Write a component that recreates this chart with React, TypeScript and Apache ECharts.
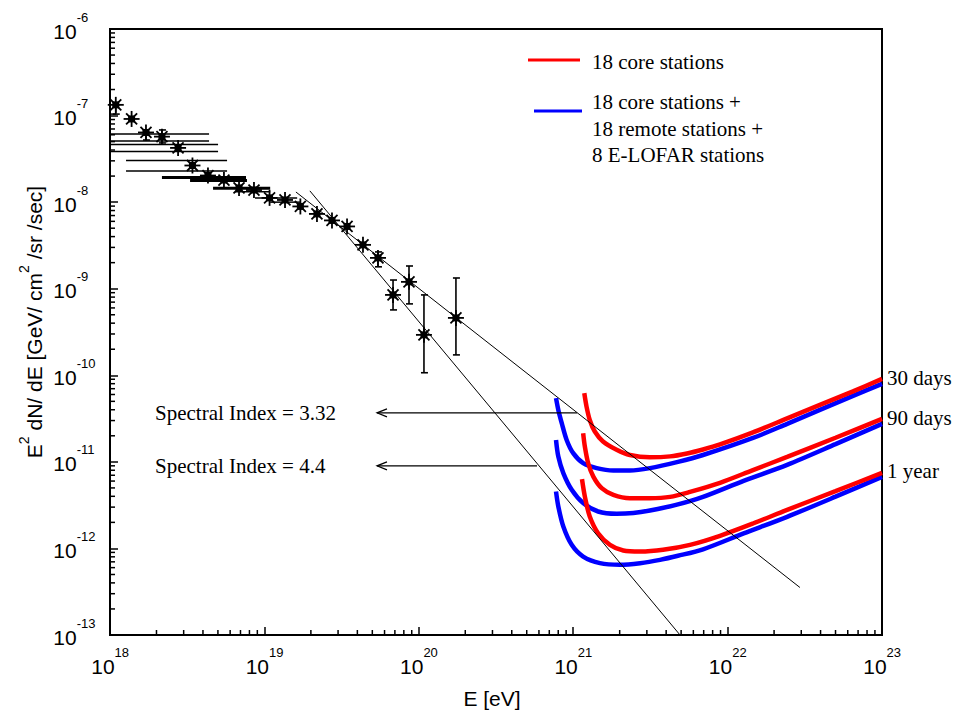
import React, { useEffect, useRef } from "react";
import * as echarts from "echarts";

// ---- axes ----
const xMin = 1e18;
const xMax = 1e23;
const yMin = 1e-13;
const yMax = 1e-6;
const xDecades = [18, 19, 20, 21, 22];
const yDecades = [-13, -12, -11, -10, -9, -8, -7];
const minorMantissas = [2, 3, 4, 5, 6, 7, 8, 9];

// ---- measured cosmic-ray flux (asterisks) ----
const dataE = [1.09e18, 1.38e18, 1.71e18, 2.17e18, 2.76e18, 3.42e18, 4.31e18, 5.47e18, 6.85e18, 8.56e18, 1.08e19, 1.36e19, 1.71e19, 2.19e19, 2.74e19, 3.43e19, 4.35e19, 5.44e19, 6.81e19, 8.64e19, 1.08e20, 1.74e20];
const dataFlux = [1.33e-7, 9.14e-8, 6.38e-8, 5.71e-8, 4.23e-8, 2.65e-8, 2.03e-8, 1.8e-8, 1.46e-8, 1.38e-8, 1.12e-8, 1.06e-8, 8.92e-9, 7.31e-9, 6.15e-9, 5.24e-9, 3.21e-9, 2.27e-9, 8.48e-10, 1.2e-9, 2.93e-10, 4.6e-10];

// vertical error bars
const vErrE = [1.09e18, 1.71e18, 2.17e18, 5.44e19, 6.81e19, 8.64e19, 1.08e20, 1.74e20];
const vErrLow = [1.04e-7, 5.22e-8, 4.83e-8, 1.79e-9, 5.69e-10, 6.68e-10, 1.07e-10, 1.72e-10];
const vErrHigh = [1.33e-7, 6.38e-8, 6.82e-8, 2.66e-9, 1.26e-9, 1.83e-9, 8.48e-10, 1.33e-9];

// horizontal error bars (thin)
const hErrFlux = [1.04e-7, 6.13e-8, 5.09e-8, 4.64e-8, 3.85e-8, 3.02e-8, 2.29e-8, 1.32e-8, 1.12e-8, 1.0e-8];
const hErrLow = [1e18, 1e18, 1e18, 1e18, 1e18, 1.27e18, 1.27e18, 6.45e18, 8.69e18, 1.09e19];
const hErrHigh = [1.09e18, 4.38e18, 4.38e18, 5.01e18, 5.01e18, 5.73e18, 5.73e18, 1.09e19, 1.63e19, 1.7e19];
// horizontal error bars (heavy)
const hErrThickFlux = [1.92e-8, 1.78e-8, 1.45e-8];
const hErrThickLow = [2.17e18, 3.3e18, 4.65e18];
const hErrThickHigh = [7.6e18, 7.71e18, 1.09e19];

// ---- power-law fits ----
const index332E = [1.6e19, 2.94e22];
const index332Flux = [1.31e-8, 3.54e-13];
const index44E = [1.97e19, 4.92e21];
const index44Flux = [1.35e-8, 1.0e-13];

// annotation arrows: from E (on fit line) to E, at flux
const arrowFromE = [1.06e21, 5.83e20];
const arrowToE = [5.36e19, 5.36e19];
const arrowFlux = [3.68e-11, 9.0e-12];

// ---- LOFAR sensitivity curves ----
const red30E = [1.18e21, 1.22e21, 1.28e21, 1.38e21, 1.56e21, 1.91e21, 2.33e21, 3.14e21, 4.24e21, 5.46e21, 6.93e21, 8.93e21, 1.46e22, 2.43e22, 3.96e22, 6.49e22, 1e23];
const red30Flux = [6.21e-11, 4.35e-11, 3.05e-11, 2.24e-11, 1.72e-11, 1.38e-11, 1.2e-11, 1.13e-11, 1.157e-11, 1.25e-11, 1.39e-11, 1.59e-11, 2.19e-11, 3.18e-11, 4.55e-11, 6.52e-11, 9.08e-11];
const blue30E = [7.74e20, 8.01e20, 8.43e20, 9.07e20, 1.0e21, 1.16e21, 1.42e21, 1.82e21, 2.33e21, 3.14e21, 4.77e21, 6.93e21, 1.46e22, 2.43e22, 3.96e22, 6.49e22, 1e23];
const blue30Flux = [5.44e-11, 3.98e-11, 2.8e-11, 1.79e-11, 1.26e-11, 9.66e-12, 8.46e-12, 7.94e-12, 7.94e-12, 8.46e-12, 1.0e-11, 1.2e-11, 1.89e-11, 2.75e-11, 3.98e-11, 5.78e-11, 7.96e-11];
const red90E = [1.16e21, 1.19e21, 1.25e21, 1.35e21, 1.53e21, 1.82e21, 2.33e21, 3.14e21, 4.24e21, 5.71e21, 8.93e21, 1.46e22, 2.43e22, 5.0e22, 1e23];
const red90Flux = [2.14e-11, 1.5e-11, 9.66e-12, 6.76e-12, 4.97e-12, 4.16e-12, 3.81e-12, 3.81e-12, 3.94e-12, 4.5e-12, 5.73e-12, 8.04e-12, 1.14e-11, 1.9e-11, 3.14e-11];
const blue90E = [7.74e20, 8.01e20, 8.63e20, 9.78e20, 1.16e21, 1.45e21, 1.91e21, 2.45e21, 3.14e21, 4.63e21, 6.93e21, 1.27e22, 2.43e22, 5.0e22, 1e23];
const blue90Flux = [1.79e-11, 1.15e-11, 7.41e-12, 4.75e-12, 3.34e-12, 2.67e-12, 2.51e-12, 2.56e-12, 2.74e-12, 3.18e-12, 3.94e-12, 6.04e-12, 9.23e-12, 1.6e-11, 2.75e-11];
const red1yE = [1.14e21, 1.19e21, 1.28e21, 1.45e21, 1.73e21, 2.11e21, 2.71e21, 3.82e21, 5.71e21, 8.93e21, 1.46e22, 2.43e22, 5.0e22, 1e23];
const red1yFlux = [6.31e-12, 3.97e-12, 2.34e-12, 1.5e-12, 1.1e-12, 9.46e-13, 9.2e-13, 9.64e-13, 1.1e-12, 1.4e-12, 1.94e-12, 2.79e-12, 4.59e-12, 7.46e-12];
const blue1yE = [7.74e20, 8.01e20, 8.63e20, 9.78e20, 1.16e21, 1.49e21, 2.01e21, 2.71e21, 3.65e21, 4.77e21, 6.93e21, 1.27e22, 2.43e22, 5.0e22, 1e23];
const blue1yFlux = [4.54e-12, 3.05e-12, 1.79e-12, 1.1e-12, 8.05e-13, 6.76e-13, 6.47e-13, 6.76e-13, 7.38e-13, 8.22e-13, 9.77e-13, 1.49e-12, 2.32e-12, 3.96e-12, 6.71e-12];

const legendRed = "18 core stations";
const legendBlue = ["18 core stations +", "18 remote stations +", "8 E-LOFAR stations"];
const curveLabels = ["30 days", "90 days", "1 year"];
const indexLabels = ["Spectral Index = 3.32", "Spectral Index = 4.4"];

const SANS = '"Liberation Sans", Arial, sans-serif';
const SERIF = '"Liberation Serif", "Times New Roman", serif';
const RED = "#ff0000";
const BLUE = "#0000ff";

const zip = (a: number[], b: number[]) => a.map((v, i) => [v, b[i]]);

const expRich = {
  sp: { fontSize: 1, lineHeight: 31 },
  b: { fontSize: 21, lineHeight: 21, verticalAlign: "bottom", fontFamily: SANS, color: "#000" },
  s: { fontSize: 13, lineHeight: 13, verticalAlign: "top", fontFamily: SANS, color: "#000" },
};
const expFormatter = (v: number) => {
  const e = Math.round(Math.log10(v));
  return `{sp| }{b|10}{s|${e}}`;
};

export default function App() {
  const ref = useRef<HTMLDivElement>(null);
  useEffect(() => {
    if (!ref.current) return;
    const chart = echarts.init(ref.current, undefined, { renderer: "svg" });

    const minorX: number[][] = [];
    xDecades.forEach((d) => minorMantissas.forEach((m) => minorX.push([m * Math.pow(10, d), yMin])));
    const minorY: number[][] = [];
    yDecades.forEach((d) => minorMantissas.forEach((m) => minorY.push([xMin, m * Math.pow(10, d)])));

    const curve = (name: string, E: number[], F: number[], color: string) => ({
      name,
      type: "line",
      data: zip(E, F),
      showSymbol: false,
      symbol: "none",
      smooth: 0.3,
      lineStyle: { color, width: 4.5 },
      z: color === RED ? 4 : 3,
    });

    const fitLine = (E: number[], F: number[]) => ({
      type: "line",
      data: zip(E, F),
      symbol: "none",
      lineStyle: { color: "#000", width: 1 },
      z: 5,
    });

    const hBars = (F: number[], lo: number[], hi: number[], w: number) => ({
      type: "custom",
      data: F.map((f, i) => [lo[i], hi[i], f]),
      encode: { x: [0, 1], y: 2 },
      z: 6,
      renderItem: (params: any, api: any) => {
        const a = api.coord([api.value(0), api.value(2)]);
        const b = api.coord([api.value(1), api.value(2)]);
        return {
          type: "line",
          shape: { x1: a[0], y1: a[1], x2: b[0], y2: b[1] },
          style: { stroke: "#000", lineWidth: w },
        };
      },
    });

    const option: any = {
      animation: false,
      backgroundColor: "#fff",
      grid: {
        left: 110,
        right: 85,
        top: 29,
        bottom: 81,
        containLabel: false,
        outerBoundsMode: "none",
        show: true,
        borderColor: "#000",
        borderWidth: 2,
        backgroundColor: "transparent",
      },
      xAxis: {
        type: "log",
        logBase: 10,
        min: xMin,
        max: xMax,
        axisLine: { show: true, lineStyle: { color: "#000", width: 2 } },
        axisTick: { show: true, inside: true, length: 8, lineStyle: { color: "#000", width: 1.5 } },
        axisLabel: {
          show: true,
          margin: 11,
          showMinLabel: true,
          showMaxLabel: true,
          formatter: expFormatter,
          rich: expRich,
        },
        splitLine: { show: false },
      },
      yAxis: {
        type: "log",
        logBase: 10,
        min: yMin,
        max: yMax,
        axisLine: { show: true, lineStyle: { color: "#000", width: 2 } },
        axisTick: { show: true, inside: true, length: 8, lineStyle: { color: "#000", width: 1.5 } },
        axisLabel: {
          show: true,
          align: "left",
          margin: 57,
          showMinLabel: true,
          showMaxLabel: true,
          formatter: expFormatter,
          rich: expRich,
          padding: [0, 0, 6, 0],
        },
        splitLine: { show: false },
      },
      series: [
        // minor ticks
        {
          type: "custom",
          data: minorX,
          z: 7,
          renderItem: (params: any, api: any) => {
            const p = api.coord([api.value(0), api.value(1)]);
            return { type: "line", shape: { x1: p[0], y1: p[1], x2: p[0], y2: p[1] - 5 }, style: { stroke: "#000", lineWidth: 1.5 } };
          },
        },
        {
          type: "custom",
          data: minorY,
          z: 7,
          renderItem: (params: any, api: any) => {
            const p = api.coord([api.value(0), api.value(1)]);
            return { type: "line", shape: { x1: p[0], y1: p[1], x2: p[0] + 5, y2: p[1] }, style: { stroke: "#000", lineWidth: 1.5 } };
          },
        },
        curve("blue30", blue30E, blue30Flux, BLUE),
        curve("blue90", blue90E, blue90Flux, BLUE),
        curve("blue1y", blue1yE, blue1yFlux, BLUE),
        curve("red30", red30E, red30Flux, RED),
        curve("red90", red90E, red90Flux, RED),
        curve("red1y", red1yE, red1yFlux, RED),
        fitLine(index332E, index332Flux),
        fitLine(index44E, index44Flux),
        // arrows
        {
          type: "custom",
          data: arrowFlux.map((f, i) => [arrowFromE[i], arrowToE[i], f]),
          encode: { x: [0, 1], y: 2 },
          z: 6,
          renderItem: (params: any, api: any) => {
            const a = api.coord([api.value(0), api.value(2)]);
            const b = api.coord([api.value(1), api.value(2)]);
            const st = { stroke: "#000", lineWidth: 1.2, fill: "none" };
            return {
              type: "group",
              children: [
                { type: "line", shape: { x1: a[0], y1: a[1], x2: b[0], y2: b[1] }, style: st },
                { type: "polyline", shape: { points: [[b[0] + 10, b[1] - 4], [b[0], b[1]], [b[0] + 10, b[1] + 4]] }, style: st },
              ],
            };
          },
        },
        hBars(hErrFlux, hErrLow, hErrHigh, 1.5),
        hBars(hErrThickFlux, hErrThickLow, hErrThickHigh, 3),
        // vertical error bars
        {
          type: "custom",
          data: vErrE.map((e, i) => [e, vErrLow[i], vErrHigh[i]]),
          encode: { x: 0, y: [1, 2] },
          z: 6,
          renderItem: (params: any, api: any) => {
            const lo = api.coord([api.value(0), api.value(1)]);
            const hi = api.coord([api.value(0), api.value(2)]);
            const st = { stroke: "#000", lineWidth: 1.6 };
            return {
              type: "group",
              children: [
                { type: "line", shape: { x1: lo[0], y1: lo[1], x2: hi[0], y2: hi[1] }, style: st },
                { type: "line", shape: { x1: lo[0] - 3, y1: lo[1], x2: lo[0] + 4, y2: lo[1] }, style: st },
                { type: "line", shape: { x1: hi[0] - 3, y1: hi[1], x2: hi[0] + 4, y2: hi[1] }, style: st },
              ],
            };
          },
        },
        // asterisks
        {
          type: "custom",
          data: zip(dataE, dataFlux),
          encode: { x: 0, y: 1 },
          z: 8,
          renderItem: (params: any, api: any) => {
            const p = api.coord([api.value(0), api.value(1)]);
            const r = 8;
            const d = 5.5;
            const ls = { stroke: "#000", lineWidth: 1.8 };
            return {
              type: "group",
              children: [
                { type: "line", shape: { x1: p[0] - r, y1: p[1], x2: p[0] + r, y2: p[1] }, style: ls },
                { type: "line", shape: { x1: p[0], y1: p[1] - r, x2: p[0], y2: p[1] + r }, style: ls },
                { type: "line", shape: { x1: p[0] - d, y1: p[1] - d, x2: p[0] + d, y2: p[1] + d }, style: ls },
                { type: "line", shape: { x1: p[0] - d, y1: p[1] + d, x2: p[0] + d, y2: p[1] - d }, style: ls },
                { type: "rect", shape: { x: p[0] - 3.5, y: p[1] - 3.5, width: 7, height: 7 }, style: { fill: "#000" } },
              ],
            };
          },
        },
      ],
      graphic: [
        // legend
        { type: "line", shape: { x1: 528, y1: 60, x2: 580, y2: 60 }, style: { stroke: RED, lineWidth: 3 } },
        { type: "text", x: 592, y: 62, style: { text: legendRed, fontFamily: SERIF, fontSize: 21, fill: "#000", verticalAlign: "middle", align: "left" } },
        { type: "line", shape: { x1: 534, y1: 111, x2: 582, y2: 111 }, style: { stroke: BLUE, lineWidth: 3 } },
        ...legendBlue.map((t, i) => ({
          type: "text",
          x: 592,
          y: 102 + i * 26.5,
          style: { text: t, fontFamily: SERIF, fontSize: 21, fill: "#000", verticalAlign: "middle", align: "left" },
        })),
        // curve labels
        ...curveLabels.map((t, i) => ({
          type: "text",
          x: 887,
          y: [378, 418, 471][i],
          style: { text: t, fontFamily: SERIF, fontSize: 21, fill: "#000", verticalAlign: "middle", align: "left" },
        })),
        // spectral index labels
        ...indexLabels.map((t, i) => ({
          type: "text",
          x: 155,
          y: [413, 466][i],
          style: { text: t, fontFamily: SERIF, fontSize: 21, fill: "#000", verticalAlign: "middle", align: "left" },
        })),
        // axis titles
        {
          type: "text",
          x: 492,
          y: 698,
          style: { text: "E [eV]", fontFamily: SANS, fontSize: 21, fill: "#000", verticalAlign: "middle", align: "center" },
        },
        {
          type: "text",
          x: 31,
          y: 322,
          rotation: Math.PI / 2,
          style: {
            text: "{t|E}{s|2}{t| dN/ dE [GeV/ cm}{s|2}{t| /sr /sec]}",
            align: "center",
            verticalAlign: "middle",
            rich: {
              t: { fontFamily: SANS, fontSize: 21, lineHeight: 28, verticalAlign: "bottom", fill: "#000" },
              s: { fontFamily: SANS, fontSize: 14, lineHeight: 14, verticalAlign: "top", fill: "#000" },
            },
          },
        },
      ],
    };
    chart.setOption(option);
    return () => chart.dispose();
  }, []);
  return (
    <div
      ref={ref}
      style={{ position: "fixed", left: 0, top: 0, width: 967, height: 716, background: "#fff" }}
    />
  );
}
